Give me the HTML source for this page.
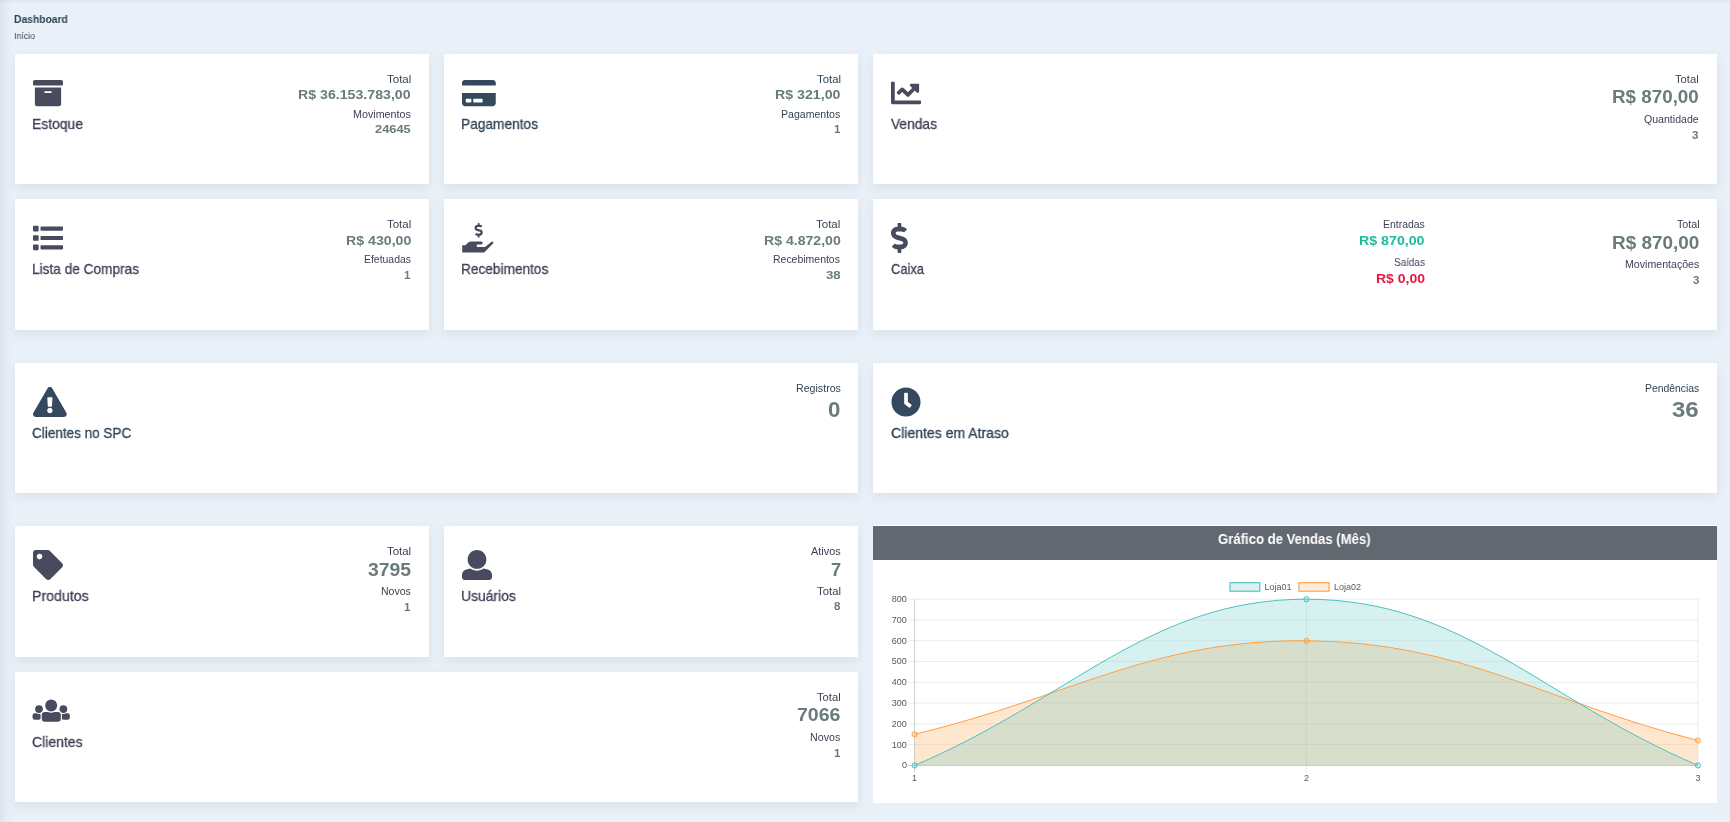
<!DOCTYPE html>
<html lang="pt-BR"><head><meta charset="utf-8"><title>Dashboard</title>
<style>
html,body{margin:0;padding:0;}
body{width:1730px;height:822px;overflow:hidden;position:relative;background:#e9f0f7;font-family:"Liberation Sans", Arial, sans-serif;}
.edge{position:absolute;left:0;top:0;width:12px;height:822px;background:linear-gradient(to right,rgba(150,160,175,0.16),rgba(150,160,175,0.06) 50%,rgba(150,160,175,0));}
.topedge{position:absolute;left:0;top:0;width:1730px;height:4px;background:linear-gradient(to bottom,rgba(160,175,190,0.14),rgba(160,175,190,0));}
.card{position:absolute;background:#fff;box-shadow:0 4px 10px rgba(50,70,60,0.08);}
.chead{position:absolute;background:#636971;}
.t{position:absolute;line-height:1;white-space:nowrap;transform-origin:0 0;will-change:transform;z-index:2;}
.ic{position:absolute;overflow:visible;}
.chart{position:absolute;overflow:visible;will-change:transform;}
</style></head>
<body>
<div class="edge"></div><div class="topedge"></div>
<div class="card" style="left:15px;top:54px;width:414px;height:130px"></div>
<div class="card" style="left:444px;top:54px;width:414px;height:130px"></div>
<div class="card" style="left:873px;top:54px;width:844px;height:130px"></div>
<div class="card" style="left:15px;top:199px;width:414px;height:131px"></div>
<div class="card" style="left:444px;top:199px;width:414px;height:131px"></div>
<div class="card" style="left:873px;top:199px;width:844px;height:131px"></div>
<div class="card" style="left:15px;top:363px;width:843px;height:130px"></div>
<div class="card" style="left:873px;top:363px;width:844px;height:130px"></div>
<div class="card" style="left:15px;top:526px;width:414px;height:131px"></div>
<div class="card" style="left:444px;top:526px;width:414px;height:131px"></div>
<div class="card" style="left:15px;top:672px;width:843px;height:130px"></div>
<div class="card" style="left:872.6px;top:524.8px;width:844.8px;height:278.2px;box-shadow:none"></div>
<div class="t" style="left:14.32px;top:14px;font-size:10.6px;color:#2f4254;font-weight:700;transform:scaleX(0.9722);">Dashboard</div>
<div class="t" style="left:14.18px;top:31px;font-size:9.7px;color:#3a4a5c;transform:scaleX(0.9132);">Início</div>
<div class="t" style="left:31.85px;top:117px;font-size:14.5px;color:#3e4156;-webkit-text-stroke:0.3px #3e4156;transform:scaleX(0.9572);">Estoque</div>
<div class="t" style="left:461.36px;top:117px;font-size:14.5px;color:#2f4357;-webkit-text-stroke:0.3px #2f4357;transform:scaleX(0.9460);">Pagamentos</div>
<div class="t" style="left:890.91px;top:117px;font-size:14.5px;color:#3e4156;-webkit-text-stroke:0.3px #3e4156;transform:scaleX(0.9497);">Vendas</div>
<div class="t" style="left:31.87px;top:262px;font-size:14.5px;color:#3e4156;-webkit-text-stroke:0.3px #3e4156;transform:scaleX(0.9419);">Lista de Compras</div>
<div class="t" style="left:461.37px;top:262px;font-size:14.5px;color:#3e4156;-webkit-text-stroke:0.3px #3e4156;transform:scaleX(0.9417);">Recebimentos</div>
<div class="t" style="left:891.38px;top:262px;font-size:14.5px;color:#3e4156;-webkit-text-stroke:0.3px #3e4156;transform:scaleX(0.8901);">Caixa</div>
<div class="t" style="left:32.45px;top:426px;font-size:14.5px;color:#2f4357;-webkit-text-stroke:0.3px #2f4357;transform:scaleX(0.9324);">Clientes no SPC</div>
<div class="t" style="left:891.12px;top:426px;font-size:14.5px;color:#2f4357;-webkit-text-stroke:0.3px #2f4357;transform:scaleX(0.9676);">Clientes em Atraso</div>
<div class="t" style="left:31.83px;top:589px;font-size:14.5px;color:#3e4156;-webkit-text-stroke:0.3px #3e4156;transform:scaleX(0.9769);">Produtos</div>
<div class="t" style="left:461.15px;top:589px;font-size:14.5px;color:#3e4156;-webkit-text-stroke:0.3px #3e4156;transform:scaleX(0.9586);">Usuários</div>
<div class="t" style="left:32.32px;top:735px;font-size:14.5px;color:#3e4156;-webkit-text-stroke:0.3px #3e4156;transform:scaleX(0.9648);">Clientes</div>
<div class="t" style="left:386.78px;top:75px;font-size:10.4px;color:#3e4156;transform:scaleX(1.1090);">Total</div>
<div class="t" style="left:298.27px;top:88px;font-size:13.7px;color:#6a7b7c;font-weight:700;transform:scaleX(1.0344);">R$ 36.153.783,00</div>
<div class="t" style="left:352.87px;top:110px;font-size:10.4px;color:#3e4156;transform:scaleX(1.0328);">Movimentos</div>
<div class="t" style="left:375.06px;top:123px;font-size:11.6px;color:#6a7b7c;font-weight:700;transform:scaleX(1.1079);">24645</div>
<div class="t" style="left:816.68px;top:75px;font-size:10.4px;color:#2f4357;transform:scaleX(1.0948);">Total</div>
<div class="t" style="left:775.07px;top:88px;font-size:13.7px;color:#6a7b7c;font-weight:700;transform:scaleX(1.0356);">R$ 321,00</div>
<div class="t" style="left:781.09px;top:110px;font-size:10.4px;color:#2f4357;transform:scaleX(1.0158);">Pagamentos</div>
<div class="t" style="left:833.90px;top:123px;font-size:11.6px;color:#6a7b7c;font-weight:700;transform:scaleX(1.0000);">1</div>
<div class="t" style="left:1675.28px;top:75px;font-size:10.4px;color:#3e4156;transform:scaleX(1.0758);">Total</div>
<div class="t" style="left:1612.16px;top:88px;font-size:18.2px;color:#6a7b7c;font-weight:700;transform:scaleX(1.0341);">R$ 870,00</div>
<div class="t" style="left:1643.99px;top:115px;font-size:10.4px;color:#3e4156;transform:scaleX(1.0170);">Quantidade</div>
<div class="t" style="left:1692.20px;top:129px;font-size:11.6px;color:#6a7b7c;font-weight:700;transform:scaleX(1.0000);">3</div>
<div class="t" style="left:386.98px;top:220px;font-size:10.4px;color:#3e4156;transform:scaleX(1.1043);">Total</div>
<div class="t" style="left:345.67px;top:234px;font-size:13.7px;color:#6a7b7c;font-weight:700;transform:scaleX(1.0340);">R$ 430,00</div>
<div class="t" style="left:363.90px;top:255px;font-size:10.4px;color:#3e4156;transform:scaleX(1.0044);">Efetuadas</div>
<div class="t" style="left:404.40px;top:269px;font-size:11.6px;color:#6a7b7c;font-weight:700;transform:scaleX(1.0000);">1</div>
<div class="t" style="left:816.38px;top:220px;font-size:10.4px;color:#3e4156;transform:scaleX(1.1090);">Total</div>
<div class="t" style="left:763.77px;top:234px;font-size:13.7px;color:#6a7b7c;font-weight:700;transform:scaleX(1.0287);">R$ 4.872,00</div>
<div class="t" style="left:773.39px;top:255px;font-size:10.4px;color:#3e4156;transform:scaleX(1.0077);">Recebimentos</div>
<div class="t" style="left:825.76px;top:269px;font-size:11.6px;color:#6a7b7c;font-weight:700;transform:scaleX(1.1393);">38</div>
<div class="t" style="left:1382.70px;top:220px;font-size:10.4px;color:#3e4156;transform:scaleX(1.0050);">Entradas</div>
<div class="t" style="left:1359.07px;top:234px;font-size:13.7px;color:#1abc9c;font-weight:700;transform:scaleX(1.0372);">R$ 870,00</div>
<div class="t" style="left:1393.52px;top:258px;font-size:10.4px;color:#3e4156;transform:scaleX(0.9556);">Saídas</div>
<div class="t" style="left:1375.58px;top:272px;font-size:13.7px;color:#e8173f;font-weight:700;transform:scaleX(1.0237);">R$ 0,00</div>
<div class="t" style="left:1676.69px;top:220px;font-size:10.4px;color:#3e4156;transform:scaleX(1.0332);">Total</div>
<div class="t" style="left:1612.15px;top:234px;font-size:18.2px;color:#6a7b7c;font-weight:700;transform:scaleX(1.0390);">R$ 870,00</div>
<div class="t" style="left:1624.88px;top:260px;font-size:10.4px;color:#3e4156;transform:scaleX(1.0210);">Movimentações</div>
<div class="t" style="left:1692.50px;top:274px;font-size:11.6px;color:#6a7b7c;font-weight:700;transform:scaleX(1.0000);">3</div>
<div class="t" style="left:795.58px;top:384px;font-size:10.4px;color:#2f4357;transform:scaleX(1.0235);">Registros</div>
<div class="t" style="left:828.10px;top:399px;font-size:22.3px;color:#6a7b7c;font-weight:700;transform:scaleX(1.0000);">0</div>
<div class="t" style="left:1645.00px;top:384px;font-size:10.4px;color:#2f4357;transform:scaleX(0.9962);">Pendências</div>
<div class="t" style="left:1672.26px;top:399px;font-size:22.3px;color:#6a7b7c;font-weight:700;transform:scaleX(1.0766);">36</div>
<div class="t" style="left:387.18px;top:547px;font-size:10.4px;color:#3e4156;transform:scaleX(1.0995);">Total</div>
<div class="t" style="left:367.77px;top:561px;font-size:18.2px;color:#6a7b7c;font-weight:700;transform:scaleX(1.0657);">3795</div>
<div class="t" style="left:380.89px;top:587px;font-size:10.4px;color:#3e4156;transform:scaleX(1.0142);">Novos</div>
<div class="t" style="left:404.30px;top:601px;font-size:11.6px;color:#6a7b7c;font-weight:700;transform:scaleX(1.0000);">1</div>
<div class="t" style="left:810.70px;top:547px;font-size:10.4px;color:#3e4156;transform:scaleX(1.0466);">Ativos</div>
<div class="t" style="left:830.60px;top:561px;font-size:18.2px;color:#6a7b7c;font-weight:700;transform:scaleX(1.0000);">7</div>
<div class="t" style="left:816.58px;top:587px;font-size:10.4px;color:#3e4156;transform:scaleX(1.0948);">Total</div>
<div class="t" style="left:833.80px;top:600px;font-size:11.6px;color:#6a7b7c;font-weight:700;transform:scaleX(1.0000);">8</div>
<div class="t" style="left:816.98px;top:693px;font-size:10.4px;color:#3e4156;transform:scaleX(1.0806);">Total</div>
<div class="t" style="left:797.24px;top:706px;font-size:18.2px;color:#6a7b7c;font-weight:700;transform:scaleX(1.0744);">7066</div>
<div class="t" style="left:810.07px;top:733px;font-size:10.4px;color:#3e4156;transform:scaleX(1.0284);">Novos</div>
<div class="t" style="left:833.90px;top:747px;font-size:11.6px;color:#6a7b7c;font-weight:700;transform:scaleX(1.0000);">1</div>
<div class="t" style="left:1218.43px;top:533px;font-size:13.9px;color:#ffffff;font-weight:700;transform:scaleX(0.9457);">Gráfico de Vendas (Mês)</div>
<svg class="ic" style="left:32.80px;top:77.70px;width:30.00px;height:30px" viewBox="0 0 512 512"><path fill="#484b5e" d="M32 448c0 17.7 14.3 32 32 32h384c17.7 0 32-14.3 32-32V160H32v288zm160-212c0-6.6 5.4-12 12-12h104c6.6 0 12 5.4 12 12v8c0 6.6-5.4 12-12 12H204c-6.6 0-12-5.4-12-12v-8zM480 32H32C14.3 32 0 46.3 0 64v48c0 8.8 7.2 16 16 16h480c8.8 0 16-7.2 16-16V64c0-17.7-14.3-32-32-32z"/></svg>
<svg class="ic" style="left:461.80px;top:77.70px;width:33.75px;height:30px" viewBox="0 0 576 512"><path fill="#34495e" d="M0 432c0 26.5 21.5 48 48 48h480c26.5 0 48-21.5 48-48V256H0v176zm192-68c0-6.6 5.4-12 12-12h136c6.6 0 12 5.4 12 12v40c0 6.6-5.4 12-12 12H204c-6.6 0-12-5.4-12-12v-40zm-128 0c0-6.6 5.4-12 12-12h72c6.6 0 12 5.4 12 12v40c0 6.6-5.4 12-12 12H76c-6.6 0-12-5.4-12-12v-40zM576 80v48H0V80c0-26.5 21.5-48 48-48h480c26.5 0 48 21.5 48 48z"/></svg>
<svg class="ic" style="left:890.80px;top:77.70px;width:30.00px;height:30px" viewBox="0 0 512 512"><path fill="#484b5e" d="M496 384H64V80c0-8.84-7.16-16-16-16H16C7.16 64 0 71.16 0 80v336c0 17.67 14.33 32 32 32h464c8.84 0 16-7.16 16-16v-32c0-8.84-7.16-16-16-16zM464 96H345.94c-21.38 0-32.09 25.85-16.97 40.97l32.4 32.4L288 242.75l-73.37-73.37c-12.5-12.5-32.76-12.5-45.25 0l-68.69 68.69c-6.25 6.25-6.25 16.38 0 22.63l22.62 22.62c6.25 6.25 16.38 6.25 22.63 0L192 237.25l73.37 73.37c12.5 12.5 32.76 12.5 45.25 0l96-96 32.4 32.4c15.12 15.12 40.97 4.41 40.97-16.97V112c.01-8.84-7.15-16-15.99-16z"/></svg>
<svg class="ic" style="left:32.80px;top:222.70px;width:30.00px;height:30px" viewBox="0 0 512 512"><path fill="#484b5e" d="M128 116V76c0-8.837 7.163-16 16-16h352c8.837 0 16 7.163 16 16v40c0 8.837-7.163 16-16 16H144c-8.837 0-16-7.163-16-16zm16 176h352c8.837 0 16-7.163 16-16v-40c0-8.837-7.163-16-16-16H144c-8.837 0-16 7.163-16 16v40c0 8.837 7.163 16 16 16zm0 160h352c8.837 0 16-7.163 16-16v-40c0-8.837-7.163-16-16-16H144c-8.837 0-16 7.163-16 16v40c0 8.837 7.163 16 16 16zM16 144h64c8.837 0 16-7.163 16-16V64c0-8.837-7.163-16-16-16H16C7.163 48 0 55.163 0 64v64c0 8.837 7.163 16 16 16zm0 160h64c8.837 0 16-7.163 16-16v-64c0-8.837-7.163-16-16-16H16c-8.837 0-16 7.163-16 16v64c0 8.837 7.163 16 16 16zm0 160h64c8.837 0 16-7.163 16-16v-64c0-8.837-7.163-16-16-16H16c-8.837 0-16 7.163-16 16v64c0 8.837 7.163 16 16 16z"/></svg>
<svg class="ic" style="left:460.00px;top:220.00px;width:36px;height:36px" viewBox="0 0 36 36"><path fill="#484b5e" transform="translate(14.55,2.90) scale(0.02871)" d="M209.2 233.4l-108-31.6C88.7 198.2 80 186.5 80 173.5c0-16.3 13.2-29.5 29.5-29.5h66.3c12.2 0 24.2 3.7 34.2 10.5 6.1 4.1 14.3 3.1 19.5-2l34.8-34c7.1-6.9 6.1-18.4-1.8-24.5C238 74.8 207.4 64.1 176 64V16c0-8.8-7.2-16-16-16h-32c-8.8 0-16 7.2-16 16v48h-2.5C45.8 64-5.4 118.7.5 183.6c4.2 46.1 39.4 83.6 83.8 96.6l102.5 30c12.5 3.7 21.2 15.3 21.2 28.3 0 16.3-13.2 29.5-29.5 29.5h-66.3C100 368 88 364.3 78 357.5c-6.1-4.1-14.3-3.1-19.5 2l-34.8 34c-7.1 6.9-6.1 18.4 1.8 24.5 24.5 19.2 55.1 29.9 86.5 30v48c0 8.8 7.2 16 16 16h32c8.8 0 16-7.2 16-16v-48.2c46.6-.9 90.3-28.6 105.7-72.7 21.5-61.6-14.6-124.8-72.5-141.7z"/><path fill="#484b5e" d="M2.20,25.20 L5.50,25.20 C7.00,23.60 8.50,21.50 11.50,21.50 L21.40,21.50 C23.00,21.50 23.00,24.50 21.40,24.50 L16.80,24.50 L16.80,26.90 L25.00,26.90 L31.30,21.90 C32.60,20.90 34.20,22.60 33.00,23.60 L24.20,32.60 L2.80,32.60 C2.40,32.60 2.20,32.30 2.20,32.00 Z"/></svg>
<svg class="ic" style="left:890.80px;top:222.70px;width:16.88px;height:30px" viewBox="0 0 288 512"><path fill="#484b5e" d="M209.2 233.4l-108-31.6C88.7 198.2 80 186.5 80 173.5c0-16.3 13.2-29.5 29.5-29.5h66.3c12.2 0 24.2 3.7 34.2 10.5 6.1 4.1 14.3 3.1 19.5-2l34.8-34c7.1-6.9 6.1-18.4-1.8-24.5C238 74.8 207.4 64.1 176 64V16c0-8.8-7.2-16-16-16h-32c-8.8 0-16 7.2-16 16v48h-2.5C45.8 64-5.4 118.7.5 183.6c4.2 46.1 39.4 83.6 83.8 96.6l102.5 30c12.5 3.7 21.2 15.3 21.2 28.3 0 16.3-13.2 29.5-29.5 29.5h-66.3C100 368 88 364.3 78 357.5c-6.1-4.1-14.3-3.1-19.5 2l-34.8 34c-7.1 6.9-6.1 18.4 1.8 24.5 24.5 19.2 55.1 29.9 86.5 30v48c0 8.8 7.2 16 16 16h32c8.8 0 16-7.2 16-16v-48.2c46.6-.9 90.3-28.6 105.7-72.7 21.5-61.6-14.6-124.8-72.5-141.7z"/></svg>
<svg class="ic" style="left:32.80px;top:386.70px;width:33.75px;height:30px" viewBox="0 0 576 512"><path fill="#34495e" d="M569.517 440.013C587.975 472.007 564.806 512 527.94 512H48.054c-36.937 0-59.999-40.055-41.577-71.987L246.423 23.985c18.467-32.009 64.72-31.951 83.154 0l239.94 416.028zM288 354c-25.405 0-46 20.595-46 46s20.595 46 46 46 46-20.595 46-46-20.595-46-46-46zm-43.673-165.346l7.418 136c.347 6.364 5.609 11.346 11.982 11.346h48.546c6.373 0 11.635-4.982 11.982-11.346l7.418-136c.375-6.874-5.098-12.654-11.982-12.654h-63.383c-6.884 0-12.356 5.78-11.981 12.654z"/></svg>
<svg class="ic" style="left:890.80px;top:386.70px;width:30.00px;height:30px" viewBox="0 0 512 512"><path fill="#34495e" d="M256 8C119 8 8 119 8 256s111 248 248 248 248-111 248-248S393 8 256 8zm92.49 313l-20 25a16 16 0 0 1-22.49 2.5l-67-49.72a40 40 0 0 1-15-31.23V112a16 16 0 0 1 16-16h32a16 16 0 0 1 16 16v144l58 42.5a16 16 0 0 1 2.49 22.5z"/></svg>
<svg class="ic" style="left:32.80px;top:549.70px;width:30.00px;height:30px" viewBox="0 0 512 512"><path fill="#484b5e" d="M0 252.118V48C0 21.49 21.49 0 48 0h204.118a48 48 0 0 1 33.941 14.059l211.882 211.882c18.745 18.745 18.745 49.137 0 67.882L293.823 497.941c-18.745 18.745-49.137 18.745-67.882 0L14.059 286.059A48 48 0 0 1 0 252.118zM112 64c-26.51 0-48 21.49-48 48s21.49 48 48 48 48-21.49 48-48-21.49-48-48-48z"/></svg>
<svg class="ic" style="left:461.80px;top:549.70px;width:30.00px;height:30px" viewBox="0 0 512 512"><path fill="#484b5e" d="M256 0c88.366 0 160 71.634 160 160s-71.634 160-160 160S96 248.366 96 160 167.634 0 256 0zm183.283 333.821l-71.313-17.828c-74.923 53.89-165.738 41.864-223.94 0l-71.313 17.828C29.981 344.505 0 382.903 0 426.955V464c0 26.51 21.49 48 48 48h416c26.51 0 48-21.49 48-48v-37.045c0-44.052-29.981-82.45-72.717-93.134z"/></svg>
<svg class="ic" style="left:30.00px;top:695.00px;width:44px;height:30px" viewBox="30 695 44 30"><rect x="32.55" y="713.2" width="8.5" height="6.6" rx="2.2" fill="#484b5e"/><rect x="61.4" y="713.2" width="8.45" height="6.6" rx="2.2" fill="#484b5e"/><circle cx="39.0" cy="709.05" r="4.9" fill="white"/><circle cx="39.0" cy="709.05" r="3.9" fill="#484b5e"/><circle cx="63.35" cy="709.05" r="4.9" fill="white"/><circle cx="63.35" cy="709.05" r="3.9" fill="#484b5e"/><rect x="40.6" y="710.8" width="21.3" height="12.0" rx="4" fill="white"/><rect x="41.75" y="711.9" width="19.05" height="9.8" rx="3" fill="#484b5e"/><circle cx="51.2" cy="705.55" r="7.2" fill="white"/><circle cx="51.2" cy="705.55" r="6.0" fill="#484b5e"/></svg>
<div class="chead" style="left:873.2px;top:526px;width:843.5px;height:33.7px"></div>
<svg class="chart" style="left:873px;top:560px;width:844px;height:243px" viewBox="873 560 844 243" font-family="Liberation Sans, Arial, sans-serif"><line x1="907.6" y1="765.40" x2="1698.30" y2="765.40" stroke="rgba(0,0,0,0.25)" stroke-width="0.75"/><text x="906.9" y="768.30" text-anchor="end" font-size="9" fill="#585858">0</text><line x1="907.6" y1="744.62" x2="1698.30" y2="744.62" stroke="rgba(0,0,0,0.1)" stroke-width="0.75"/><text x="906.9" y="747.52" text-anchor="end" font-size="9" fill="#585858">100</text><line x1="907.6" y1="723.85" x2="1698.30" y2="723.85" stroke="rgba(0,0,0,0.1)" stroke-width="0.75"/><text x="906.9" y="726.75" text-anchor="end" font-size="9" fill="#585858">200</text><line x1="907.6" y1="703.08" x2="1698.30" y2="703.08" stroke="rgba(0,0,0,0.1)" stroke-width="0.75"/><text x="906.9" y="705.98" text-anchor="end" font-size="9" fill="#585858">300</text><line x1="907.6" y1="682.30" x2="1698.30" y2="682.30" stroke="rgba(0,0,0,0.1)" stroke-width="0.75"/><text x="906.9" y="685.20" text-anchor="end" font-size="9" fill="#585858">400</text><line x1="907.6" y1="661.52" x2="1698.30" y2="661.52" stroke="rgba(0,0,0,0.1)" stroke-width="0.75"/><text x="906.9" y="664.42" text-anchor="end" font-size="9" fill="#585858">500</text><line x1="907.6" y1="640.75" x2="1698.30" y2="640.75" stroke="rgba(0,0,0,0.1)" stroke-width="0.75"/><text x="906.9" y="643.65" text-anchor="end" font-size="9" fill="#585858">600</text><line x1="907.6" y1="619.98" x2="1698.30" y2="619.98" stroke="rgba(0,0,0,0.1)" stroke-width="0.75"/><text x="906.9" y="622.88" text-anchor="end" font-size="9" fill="#585858">700</text><line x1="907.6" y1="599.20" x2="1698.30" y2="599.20" stroke="rgba(0,0,0,0.1)" stroke-width="0.75"/><text x="906.9" y="602.10" text-anchor="end" font-size="9" fill="#585858">800</text><line x1="914.60" y1="599.20" x2="914.60" y2="772.40" stroke="rgba(0,0,0,0.25)" stroke-width="0.75"/><text x="914.60" y="780.8" text-anchor="middle" font-size="9" fill="#585858">1</text><line x1="1306.40" y1="599.20" x2="1306.40" y2="772.40" stroke="rgba(0,0,0,0.1)" stroke-width="0.75"/><text x="1306.40" y="780.8" text-anchor="middle" font-size="9" fill="#585858">2</text><line x1="1697.90" y1="599.20" x2="1697.90" y2="772.40" stroke="rgba(0,0,0,0.1)" stroke-width="0.75"/><text x="1697.90" y="780.8" text-anchor="middle" font-size="9" fill="#585858">3</text><path d="M914.60,734.24 C1071.32,696.84 1149.97,639.51 1306.40,640.75 C1463.29,642.00 1541.30,700.58 1697.90,740.47 L1697.90,765.40 L914.60,765.40 Z" fill="rgba(255,159,64,0.25)"/><path d="M914.60,765.40 C1071.32,698.92 1149.69,599.20 1306.40,599.20 C1463.01,599.20 1541.30,698.92 1697.90,765.40 L1697.90,765.40 L914.60,765.40 Z" fill="rgba(75,192,192,0.22)"/><path d="M914.60,734.24 C1071.32,696.84 1149.97,639.51 1306.40,640.75 C1463.29,642.00 1541.30,700.58 1697.90,740.47" fill="none" stroke="rgb(255,159,64)" stroke-width="1.0"/><circle cx="914.60" cy="734.24" r="2.6" fill="rgba(255,159,64,0.2)" stroke="rgb(255,159,64)" stroke-width="1.0"/><circle cx="1306.40" cy="640.75" r="2.6" fill="rgba(255,159,64,0.2)" stroke="rgb(255,159,64)" stroke-width="1.0"/><circle cx="1697.90" cy="740.47" r="2.6" fill="rgba(255,159,64,0.2)" stroke="rgb(255,159,64)" stroke-width="1.0"/><path d="M914.60,765.40 C1071.32,698.92 1149.69,599.20 1306.40,599.20 C1463.01,599.20 1541.30,698.92 1697.90,765.40" fill="none" stroke="rgb(75,192,192)" stroke-width="1.0"/><circle cx="914.60" cy="765.40" r="2.6" fill="rgba(75,192,192,0.2)" stroke="rgb(75,192,192)" stroke-width="1.0"/><circle cx="1306.40" cy="599.20" r="2.6" fill="rgba(75,192,192,0.2)" stroke="rgb(75,192,192)" stroke-width="1.0"/><circle cx="1697.90" cy="765.40" r="2.6" fill="rgba(75,192,192,0.2)" stroke="rgb(75,192,192)" stroke-width="1.0"/><rect x="1230.0" y="582.7" width="29.8" height="8.5" fill="rgba(75,192,192,0.2)" stroke="rgb(75,192,192)" stroke-width="1.1"/><text x="1264.5" y="589.9" font-size="9" fill="#585858">Loja01</text><rect x="1299.0" y="582.7" width="30.0" height="8.5" fill="rgba(255,159,64,0.2)" stroke="rgb(255,159,64)" stroke-width="1.1"/><text x="1333.9" y="589.9" font-size="9" fill="#585858">Loja02</text></svg>
</body></html>
